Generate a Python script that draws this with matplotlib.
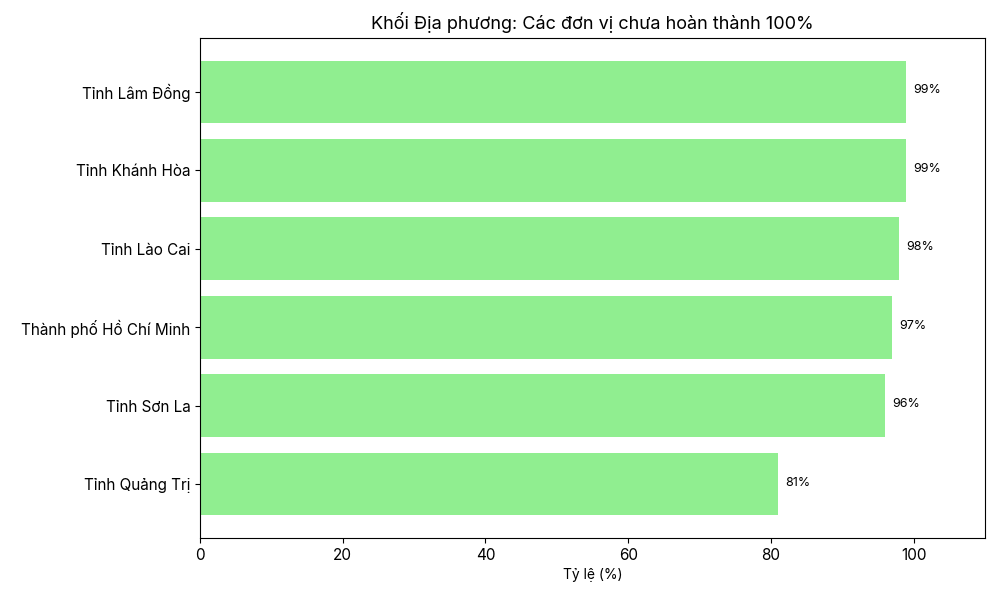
import matplotlib
matplotlib.use('Agg')
import matplotlib.pyplot as plt

plt.rcParams['font.family'] = ['Inter', 'DejaVu Sans']

# data, bottom to top
units = ['Tỉnh Quảng Trị', 'Tỉnh Sơn La', 'Thành phố Hồ Chí Minh',
         'Tỉnh Lào Cai', 'Tỉnh Khánh Hòa', 'Tỉnh Lâm Đồng']
rates = [81, 96, 97, 98, 99, 99]

fig, ax = plt.subplots(figsize=(10, 6), dpi=100)
bars = ax.barh(units, rates, color='#90ee90', height=0.8)

for b, v in zip(bars, rates):
    ax.text(v + 1, b.get_y() + b.get_height() / 2 + 0.02, f'{v}%',
            va='center', ha='left', fontsize=9)

ax.set_xlim(0, 110)
ax.set_xlabel('Tỷ lệ (%)', fontsize=10)
ax.set_title('Khối Địa phương: Các đơn vị chưa hoàn thành 100%', fontsize=13)
ax.tick_params(axis='both', labelsize=11)

plt.subplots_adjust(left=0.2, right=0.985, top=0.937, bottom=0.103)
plt.savefig('out.png')
